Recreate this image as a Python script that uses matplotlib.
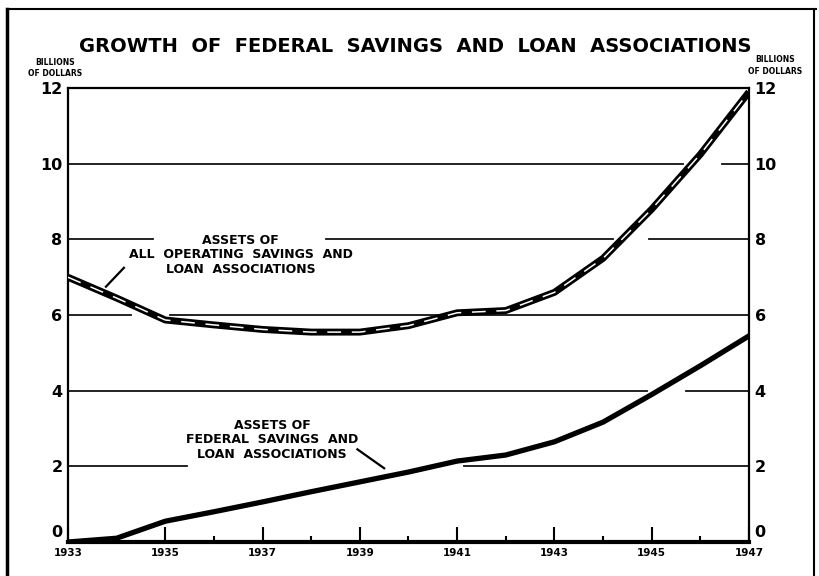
import numpy as np
import matplotlib.pyplot as plt
from matplotlib.lines import Line2D

# Data (billions of dollars)
years = np.arange(1933, 1948)
all_assoc = [7.0, 6.45, 5.87, 5.74, 5.62, 5.55, 5.55, 5.72, 6.06, 6.12, 6.6, 7.5, 8.8, 10.25, 11.9]
federal = [0.0, 0.1, 0.55, 0.8, 1.06, 1.33, 1.59, 1.85, 2.14, 2.3, 2.65, 3.17, 3.9, 4.66, 5.45]
yticks = [0, 2, 4, 6, 8, 10, 12]
xlabels = [1933, 1935, 1937, 1939, 1941, 1943, 1945, 1947]

# grid segments with gaps (level, list of (start, end))
grid_segs = {
    2: [(1933, 1935.45), (1941.15, 1947)],
    4: [(1933, 1944.9), (1945.7, 1947)],
    6: [(1933, 1934.3), (1935.1, 1947)],
    8: [(1933, 1934.75), (1938.3, 1944.2), (1944.95, 1947)],
    10: [(1933, 1945.65), (1946.45, 1947)],
}

plt.rcParams['font.family'] = ['DejaVu Sans']
plt.rcParams['font.weight'] = 'bold'

fig = plt.figure(figsize=(8.2, 5.76), dpi=100)
ax = fig.add_axes([0.0829, 0.059, 0.8305, 0.788])

for lvl, segs in grid_segs.items():
    for a, b in segs:
        ax.plot([a, b], [lvl, lvl], color='#111111', lw=1.3, zorder=1)

ax.plot(years, all_assoc, color='black', lw=5, solid_capstyle='butt', zorder=3)
ax.plot(years, all_assoc, color='white', lw=1.1, dashes=(9, 7), zorder=4)
ax.plot(years, federal, color='black', lw=3.8, solid_joinstyle='round', zorder=3)

ax.set_xlim(1933, 1947)
ax.set_ylim(0, 12)

for s in ['left', 'right', 'top']:
    ax.spines[s].set_linewidth(1.6)
ax.spines['bottom'].set_linewidth(3)

ax.set_yticks(yticks)
ax.set_yticklabels(['' if v == 0 else str(v) for v in yticks], fontsize=11.5, fontweight='bold')
ax.tick_params(axis='y', length=0, pad=4, labelright=True)
# zero labels sit a little above the axis line
ax.text(-0.008, 0.022, '0', transform=ax.transAxes, ha='right', va='center',
        fontsize=11.5, fontweight='bold')
ax.text(1.008, 0.022, '0', transform=ax.transAxes, ha='left', va='center',
        fontsize=11.5, fontweight='bold')

ax.set_xticks(xlabels)
ax.set_xticklabels([str(v) for v in xlabels], fontsize=7.5, fontweight='bold')
ax.set_xticks(np.arange(1934, 1947, 2), minor=True)
ax.tick_params(axis='x', which='major', direction='in', length=11, width=1.5, pad=4)
ax.tick_params(axis='x', which='minor', direction='in', length=4, width=1.5)

fig.text(0.506, 0.92, 'GROWTH  OF  FEDERAL  SAVINGS  AND  LOAN  ASSOCIATIONS',
         ha='center', va='center', fontsize=14, fontweight='bold')
fig.text(0.067, 0.882, 'BILLIONS\nOF DOLLARS', ha='center', va='center',
         fontsize=5.5, fontweight='bold', linespacing=1.35)
fig.text(0.945, 0.886, 'BILLIONS\nOF DOLLARS', ha='center', va='center',
         fontsize=5.5, fontweight='bold', linespacing=1.35)

ax.text(1936.55, 7.59, 'ASSETS OF\nALL  OPERATING  SAVINGS  AND\nLOAN  ASSOCIATIONS',
        ha='center', va='center', fontsize=9, fontweight='bold', linespacing=1.15)
ax.plot([1933.78, 1934.15], [6.75, 7.25], color='black', lw=1.6)

ax.text(1937.2, 2.7, 'ASSETS OF\nFEDERAL  SAVINGS  AND\nLOAN  ASSOCIATIONS',
        ha='center', va='center', fontsize=9, fontweight='bold', linespacing=1.15)
ax.plot([1938.95, 1939.5], [2.45, 1.95], color='black', lw=1.6)

# scanned page border
fig.add_artist(Line2D([0.009, 0.009], [0.0, 0.985], color='black', lw=2.5, transform=fig.transFigure))
fig.add_artist(Line2D([0.009, 0.995], [0.985, 0.985], color='black', lw=1.5, transform=fig.transFigure))
fig.add_artist(Line2D([0.993, 0.993], [0.0, 0.985], color='black', lw=1.5, transform=fig.transFigure))

fig.savefig('out.png', dpi=100)
